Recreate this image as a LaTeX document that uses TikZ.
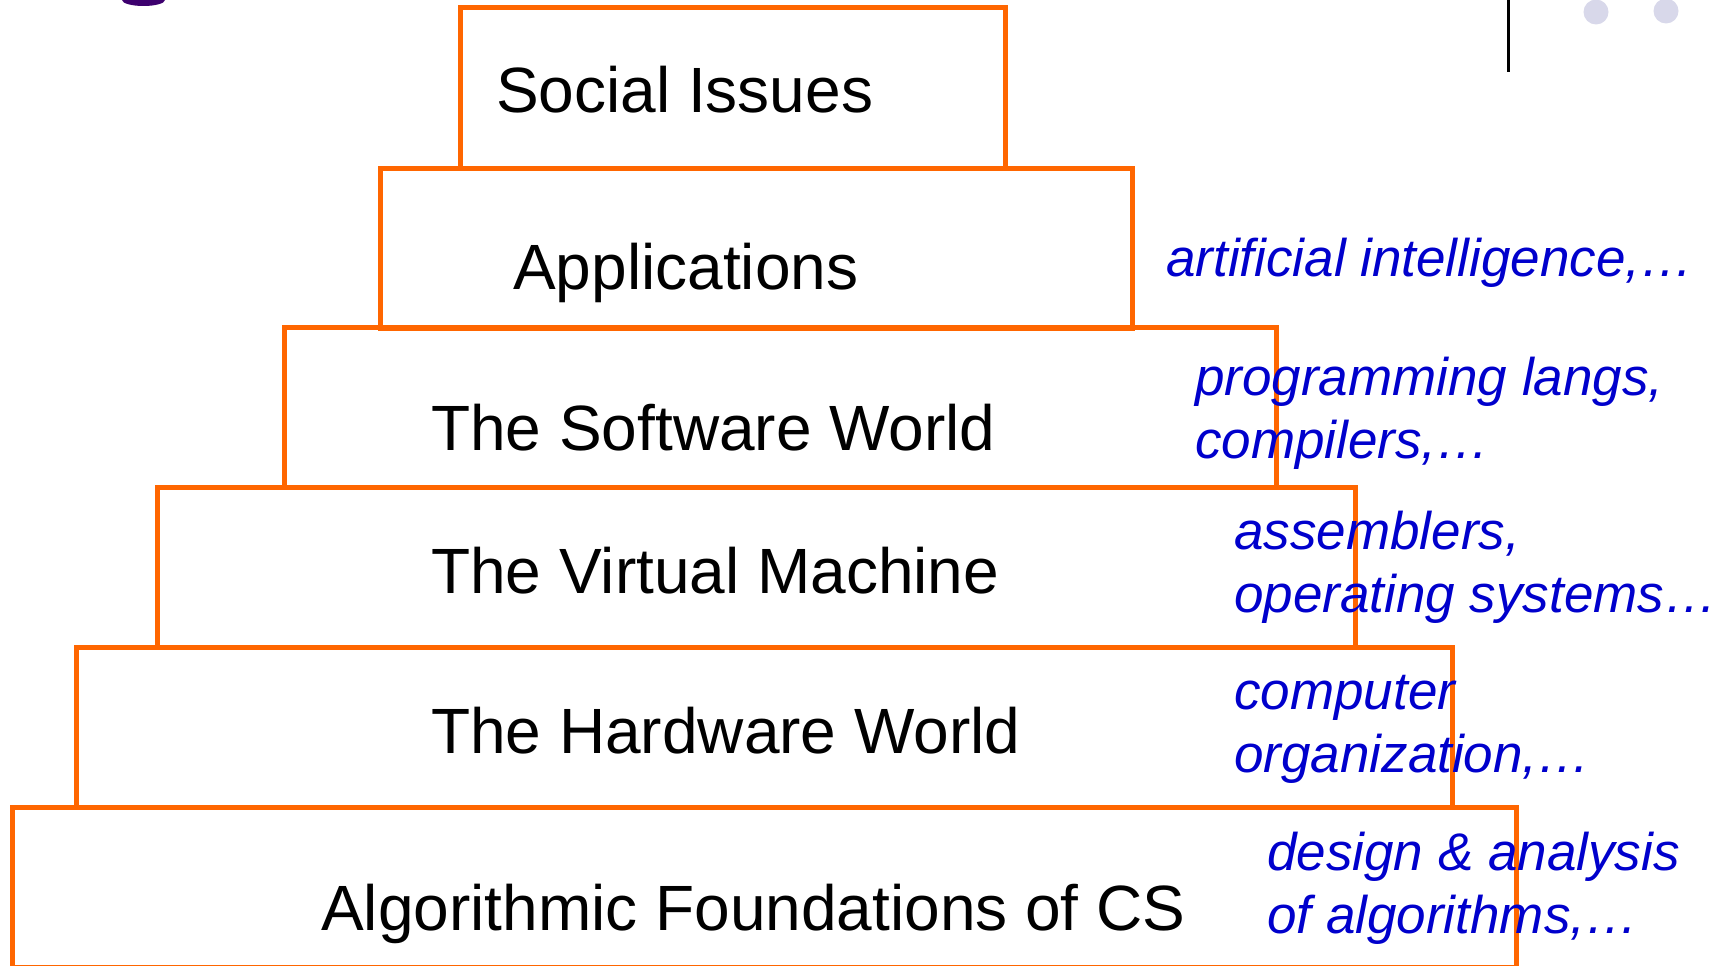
\documentclass[tikz,border=0pt]{standalone}
\usepackage{fontspec}
\setmainfont{Liberation Sans}
\usetikzlibrary{positioning}

\definecolor{layerorange}{HTML}{FF6600}
\definecolor{noteblue}{HTML}{0000CC}
\definecolor{titlepurple}{HTML}{3D006E}
\definecolor{dotgrey}{HTML}{D8D8EA}

\begin{document}
\begin{tikzpicture}[
    x=1pt, y=-1pt,
    % Styles
    layer/.style={ % One step of the pyramid
        rectangle,
        draw=layerorange,
        line width=5pt,
        minimum height=160pt,
        outer sep=0pt,
        inner sep=0pt,
        anchor=north west
    },
    caption/.style={ % Name of a layer
        anchor=base west,
        inner sep=0pt,
        font=\fontsize{64}{77}\selectfont
    },
    note/.style={ % Topics beside a layer (base = last line)
        anchor=base west,
        inner sep=0pt,
        align=left,
        text=noteblue,
        font=\fontsize{53}{63}\selectfont\itshape
    }
]
    \useasboundingbox (0,0) rectangle (1729,966);

    % Slide decoration
    \fill[titlepurple] (143.5,0) ellipse (21.5 and 6);
    \draw[line width=3pt] (1508,0) -- (1508,72);
    \fill[dotgrey] (1596,12) circle (12.5);
    \fill[dotgrey] (1666,11) circle (12.5);

    % Pyramid layers, top to bottom
    \node[layer, minimum width=545pt]  (social) at (460,8) {};
    \node[layer, minimum width=752pt]  (apps)   at (380,168) {};
    \node[layer, minimum width=992pt]  (soft)   at (284,327) {};
    \node[layer, minimum width=1198pt] (vm)     at (157,487) {};
    \node[layer, minimum width=1376pt] (hard)   at (76,647) {};
    \node[layer, minimum width=1504pt] (algo)   at (12,807) {};

    % Layer names
    \node[caption] (socialtext) at (496,112) {Social Issues};
    \node[caption] (appstext)   at (513,289) {Applications};
    \node[caption] (softtext)   at (431,450) {The Software World};
    \node[caption] (vmtext)     at (431,593) {The Virtual Machine};
    \node[caption] (hardtext)   at (431,753) {The Hardware World};
    \node[caption] (algotext)   at (321,930) {Algorithmic Foundations of CS};

    % Topics
    \node[note] (appsnote) at (1166,276) {artificial intelligence,…};
    \node[note] (softnote) at (1195,458) {programming langs,\\compilers,…};
    \node[note] (vmnote)   at (1234,612) {assemblers,\\operating systems…};
    \node[note] (hardnote) at (1234,772) {computer\\organization,…};
    \node[note] (algonote) at (1267,933) {design \& analysis\\of algorithms,…};
\end{tikzpicture}
\end{document}
